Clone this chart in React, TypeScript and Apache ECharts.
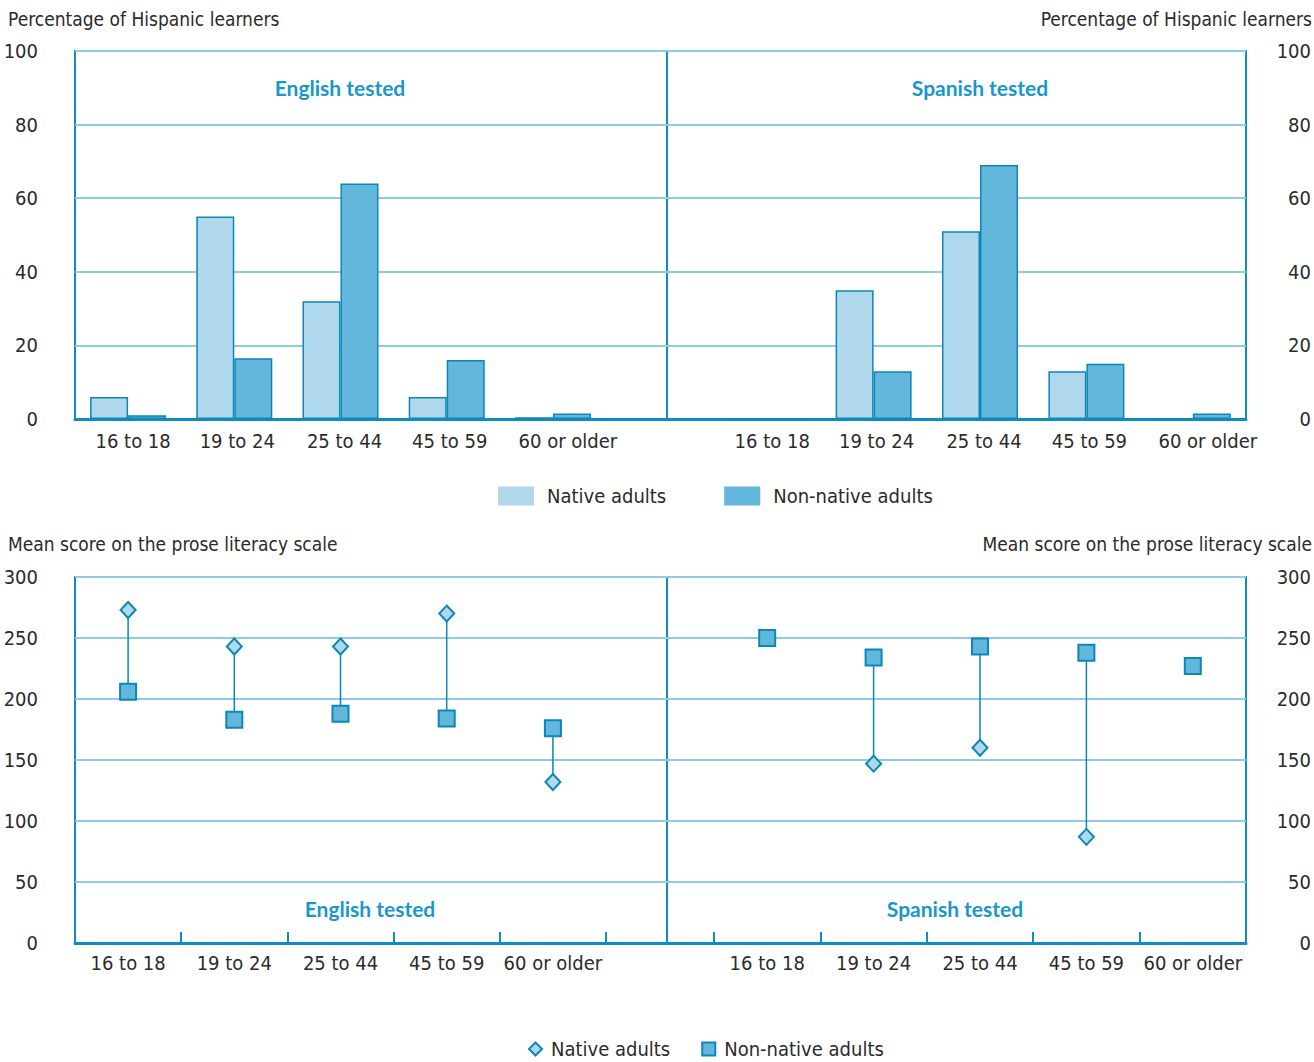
import React, { useEffect, useRef } from "react";
import * as echarts from "echarts";

const ageGroups = ["16 to 18", "19 to 24", "25 to 44", "45 to 59", "60 or older"];
const pctEnglishNative = [6, 55, 32, 6, 0.5];
const pctEnglishNonNative = [1, 16.5, 64, 16, 1.5];
const pctSpanishNative = [0, 35, 51, 13, 0];
const pctSpanishNonNative = [0, 13, 69, 15, 1.5];
const scoreEnglishNative: (number | null)[] = [273, 243, 243, 270, 132];
const scoreEnglishNonNative: (number | null)[] = [206, 183, 188, 184, 176];
const scoreSpanishNative: (number | null)[] = [null, 147, 160, 87, null];
const scoreSpanishNonNative: (number | null)[] = [250, 234, 243, 238, 227];
const panelTitles = ["English tested", "Spanish tested"];
const seriesNames = ["Native adults", "Non-native adults"];
const pctAxisName = "Percentage of Hispanic learners";
const scoreAxisName = "Mean score on the prose literacy scale";

// label nudges (style only) for the top chart's category labels, in px
const topLabelShift = [10, 6, 8, 6, 30];

const FONT = "'DejaVu Sans Condensed', 'Liberation Sans Narrow', 'Roboto', sans-serif";
const TITLE_FONT = "'Lato', 'Open Sans', sans-serif";
const FS = 19;
const FRAME = "#0f8cc0";
const GRIDLINE = "#8dcbe6";
const LIGHT = "#b0d8ec";
const MID = "#63b7dc";
const EDGE = "#0b87b8";
const TEXT = "#2b2b2b";
const TITLE = "#1897cd";

export default function App() {
  const ref = useRef<HTMLDivElement>(null);
  useEffect(() => {
    if (!ref.current) return;
    const chart = echarts.init(ref.current, null, { renderer: "svg" });

    const topY = 51, topH = 368, botY = 577, botH = 366;
    const grids = [
      { left: 75, top: topY, width: 592, height: topH, show: true, borderColor: FRAME, borderWidth: 2 },
      { left: 667, top: topY, width: 580, height: topH, show: true, borderColor: FRAME, borderWidth: 2 },
      { left: 75, top: topY, width: 531, height: topH },
      { left: 714, top: topY, width: 532, height: topH },
      { left: 75, top: botY, width: 592, height: botH, show: true, borderColor: FRAME, borderWidth: 2 },
      { left: 667, top: botY, width: 580, height: botH, show: true, borderColor: FRAME, borderWidth: 2 },
      { left: 75, top: botY, width: 531, height: botH },
      { left: 714, top: botY, width: 532, height: botH },
    ];

    const frameX = (gi: number) => ({
      type: "value", gridIndex: gi, min: 0, max: 1, show: true,
      axisLine: { show: true, onZero: false, lineStyle: { color: FRAME, width: 3 } },
      axisTick: { show: false }, axisLabel: { show: false }, splitLine: { show: false },
    });
    const dataX = (gi: number, bottom: boolean) => ({
      type: "category", gridIndex: gi,
      data: bottom
        ? ageGroups
        : ageGroups.map((v, i) => ({ value: v, textStyle: { padding: [0, 0, 0, topLabelShift[i]] } })),
      axisLine: { show: false },
      axisTick: bottom
        ? { show: true, inside: true, length: 11, lineStyle: { color: FRAME, width: 2 } }
        : { show: false },
      axisLabel: { color: TEXT, fontFamily: FONT, fontSize: FS + 1, margin: bottom ? 10 : 12, interval: 0 },
    });
    const frameY = (gi: number, max: number, interval: number, right: boolean) => ({
      type: "value", gridIndex: gi, min: 0, max, interval,
      position: right ? "right" : "left",
      axisLine: { show: false }, axisTick: { show: false },
      axisLabel: {
        color: TEXT, fontFamily: FONT, fontSize: FS + 1,
        align: "right", margin: right ? 65 : 37,
      },
      splitLine: { show: true, lineStyle: { color: GRIDLINE, width: 2 } },
    });
    const dataY = (gi: number, max: number) => ({
      type: "value", gridIndex: gi, min: 0, max, show: false, splitLine: { show: false },
    });

    const bar = (name: string, gi: number, data: number[], color: string) => ({
      type: "bar", name, xAxisIndex: gi, yAxisIndex: gi, data,
      barWidth: 38, barGap: "0%",
      itemStyle: { color, borderColor: EDGE, borderWidth: 1.5 },
      z: 3,
    });
    const scatter = (name: string, gi: number, data: (number | null)[], symbol: string, size: any, color: string) => ({
      type: "scatter", name, xAxisIndex: gi, yAxisIndex: gi, data, symbol, symbolSize: size,
      itemStyle: { color, borderColor: EDGE, borderWidth: 2, opacity: 1 },
      z: 5,
    });
    const connector = (gi: number, a: (number | null)[], b: (number | null)[]) => ({
      type: "custom", xAxisIndex: gi, yAxisIndex: gi, z: 4,
      data: ageGroups
        .map((_, i) => [i, a[i], b[i]])
        .filter((d) => d[1] != null && d[2] != null),
      encode: { x: 0, y: [1, 2] },
      renderItem: (params: any, api: any) => {
        const x = api.value(0);
        const p1 = api.coord([x, api.value(1)]);
        const p2 = api.coord([x, api.value(2)]);
        return {
          type: "line",
          shape: { x1: p1[0], y1: p1[1], x2: p2[0], y2: p2[1] },
          style: { stroke: EDGE, lineWidth: 1.5 },
        };
      },
    });

    const titleStyle = { fill: TITLE, font: `bold 21px ${TITLE_FONT}` };
    const axisNameStyle = { fill: TEXT, font: `${FS}px ${FONT}` };

    chart.setOption({
      animation: false,
      backgroundColor: "#ffffff",
      grid: grids,
      xAxis: [frameX(0), frameX(1), dataX(2, false), dataX(3, false), frameX(4), frameX(5), dataX(6, true), dataX(7, true)],
      yAxis: [
        frameY(0, 100, 20, false), frameY(1, 100, 20, true), dataY(2, 100), dataY(3, 100),
        frameY(4, 300, 50, false), frameY(5, 300, 50, true), dataY(6, 300), dataY(7, 300),
      ],
      legend: [
        {
          top: 481, left: 493, itemWidth: 36, itemHeight: 19, itemGap: 58,
          textStyle: { color: TEXT, fontFamily: FONT, fontSize: FS + 1, padding: [0, 0, 0, 8] },
          selectedMode: false,
          data: [
            { name: seriesNames[0], icon: "rect", itemStyle: { color: LIGHT, borderWidth: 0 } },
            { name: seriesNames[1], icon: "rect", itemStyle: { color: MID, borderWidth: 0 } },
          ],
        },
        {
          top: 1034, left: 523, itemWidth: 13, itemHeight: 13, itemGap: 31,
          textStyle: { color: TEXT, fontFamily: FONT, fontSize: FS + 1, padding: [0, 0, 0, 4] },
          selectedMode: false,
          data: [
            { name: seriesNames[0], icon: "diamond", itemStyle: { color: LIGHT, borderColor: EDGE, borderWidth: 2 } },
            { name: seriesNames[1], icon: "rect", itemStyle: { color: MID, borderColor: EDGE, borderWidth: 2 } },
          ],
        },
      ],
      graphic: [
        { type: "text", left: 8, top: 9, style: { text: pctAxisName, ...axisNameStyle } },
        { type: "text", right: 2, top: 9, style: { text: pctAxisName, ...axisNameStyle } },
        { type: "text", left: 8, top: 534, style: { text: scoreAxisName, ...axisNameStyle } },
        { type: "text", right: 2, top: 534, style: { text: scoreAxisName, ...axisNameStyle } },
        { type: "text", x: 340, y: 87, style: { text: panelTitles[0], ...titleStyle, textAlign: "center", textVerticalAlign: "middle" } },
        { type: "text", x: 980, y: 87, style: { text: panelTitles[1], ...titleStyle, textAlign: "center", textVerticalAlign: "middle" } },
        { type: "text", x: 370, y: 908, style: { text: panelTitles[0], ...titleStyle, textAlign: "center", textVerticalAlign: "middle" } },
        { type: "text", x: 955, y: 908, style: { text: panelTitles[1], ...titleStyle, textAlign: "center", textVerticalAlign: "middle" } },
      ],
      series: [
        bar(seriesNames[0], 2, pctEnglishNative, LIGHT),
        bar(seriesNames[1], 2, pctEnglishNonNative, MID),
        bar(seriesNames[0], 3, pctSpanishNative, LIGHT),
        bar(seriesNames[1], 3, pctSpanishNonNative, MID),
        connector(6, scoreEnglishNative, scoreEnglishNonNative),
        connector(7, scoreSpanishNative, scoreSpanishNonNative),
        scatter(seriesNames[0], 6, scoreEnglishNative, "diamond", [15, 16], LIGHT),
        scatter(seriesNames[1], 6, scoreEnglishNonNative, "rect", 16, MID),
        scatter(seriesNames[0], 7, scoreSpanishNative, "diamond", [15, 16], LIGHT),
        scatter(seriesNames[1], 7, scoreSpanishNonNative, "rect", 16, MID),
      ],
    });

    return () => chart.dispose();
  }, []);

  return (
    <div
      ref={ref}
      style={{ position: "absolute", left: 0, top: 0, width: 1314, height: 1062 }}
    />
  );
}
